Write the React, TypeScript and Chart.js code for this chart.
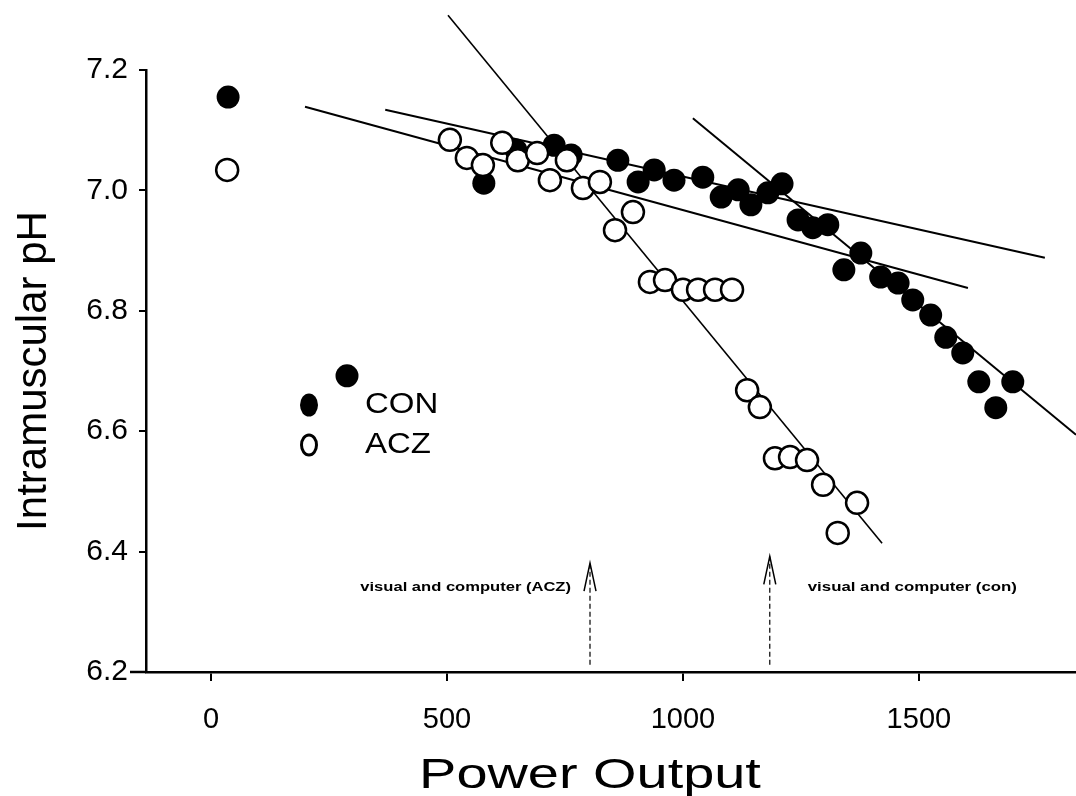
import React, { useEffect, useRef } from "react";
import { Chart, registerables } from "chart.js";

Chart.register(...registerables);

// ---- data ----
const seriesNames = ["CON", "ACZ"];

const conX = [36, 288, 578, 646, 727, 763, 862, 905, 939, 981, 1042, 1081, 1117, 1144, 1180, 1210, 1244, 1275, 1307, 1341, 1377, 1419, 1456, 1487, 1525, 1557, 1593, 1627, 1663, 1699];
const conY = [7.155, 6.692, 7.012, 7.067, 7.075, 7.059, 7.05, 7.014, 7.034, 7.017, 7.022, 6.989, 7.001, 6.976, 6.996, 7.011, 6.951, 6.938, 6.943, 6.868, 6.896, 6.856, 6.846, 6.818, 6.793, 6.756, 6.73, 6.682, 6.639, 6.682];

const aczX = [34, 506, 542, 576, 617, 650, 691, 718, 754, 788, 824, 856, 894, 930, 962, 1000, 1032, 1068, 1104, 1136, 1163, 1195, 1227, 1263, 1297, 1328, 1369];
const aczY = [7.034, 7.084, 7.054, 7.042, 7.079, 7.05, 7.062, 7.017, 7.05, 7.004, 7.014, 6.934, 6.964, 6.848, 6.851, 6.835, 6.835, 6.835, 6.835, 6.668, 6.64, 6.555, 6.557, 6.552, 6.511, 6.431, 6.481];

// fitted regression lines (end points)
const fitUpperX = [369, 1767];
const fitUpperY = [7.134, 6.888];
const fitLowerX = [199, 1604];
const fitLowerY = [7.139, 6.838];
const fitAczX = [502, 1422];
const fitAczY = [7.291, 6.414];
const fitConX = [1021, 1833];
const fitConY = [7.12, 6.594];

// thresholds (arrows)
const thresholdX = [803, 1184];
const thresholdTipY = [6.381, 6.392];
const thresholdBaseY = 6.212;
const thresholdLabelY = 6.34;
const thresholdLabels = ["visual and computer (ACZ)", "visual and computer (con)"];

const xTicks = [0, 500, 1000, 1500];
const yTicks = [6.2, 6.4, 6.6, 6.8, 7.0, 7.2];
const xTitle = "Power Output";
const yTitle = "Intramuscular pH";

const FONT = '"Liberation Sans", Arial, Helvetica, sans-serif';

const zip = (xs: number[], ys: number[]) => xs.map((x, i) => ({ x, y: ys[i] }));

const annotationPlugin = {
  id: "annotations",
  afterDatasetsDraw(chart: any) {
    const { ctx, scales, chartArea } = chart;
    const xs = scales.x;
    const ys = scales.y;
    ctx.save();
    ctx.strokeStyle = "#000";
    ctx.fillStyle = "#000";

    // small overshoot of the x axis line left of the y axis
    ctx.lineWidth = 2.5;
    ctx.beginPath();
    ctx.moveTo(chartArea.left - 16, chartArea.bottom);
    ctx.lineTo(chartArea.left, chartArea.bottom);
    ctx.stroke();

    thresholdX.forEach((v, i) => {
      const px = xs.getPixelForValue(v);
      const top = ys.getPixelForValue(thresholdTipY[i]);
      const bot = ys.getPixelForValue(thresholdBaseY);
      ctx.setLineDash([5, 3]);
      ctx.lineWidth = 1.2;
      ctx.beginPath();
      ctx.moveTo(px, bot);
      ctx.lineTo(px, top);
      ctx.stroke();
      ctx.setLineDash([]);
      ctx.lineWidth = 1.5;
      ctx.beginPath();
      ctx.moveTo(px - 6, top + 28);
      ctx.lineTo(px, top);
      ctx.lineTo(px + 6, top + 28);
      ctx.stroke();

      const ly = ys.getPixelForValue(thresholdLabelY);
      ctx.save();
      ctx.font = "bold 12px " + FONT;
      ctx.textBaseline = "middle";
      if (i === 0) {
        ctx.translate(px - 19, ly);
        ctx.scale(1.38, 1);
        ctx.textAlign = "right";
      } else {
        ctx.translate(px + 38, ly);
        ctx.scale(1.4, 1);
        ctx.textAlign = "left";
      }
      ctx.fillText(thresholdLabels[i], 0, 0);
      ctx.restore();
    });

    // legend inside plot
    const lx = 309;
    const tx = 365;
    const rows = [405, 445];
    rows.forEach((ry, i) => {
      ctx.beginPath();
      if (i === 0) {
        ctx.ellipse(lx, ry, 9, 11.5, 0, 0, Math.PI * 2);
        ctx.fillStyle = "#000";
        ctx.fill();
      } else {
        ctx.ellipse(lx, ry, 7.5, 10, 0, 0, Math.PI * 2);
        ctx.fillStyle = "#fff";
        ctx.fill();
        ctx.lineWidth = 3;
        ctx.strokeStyle = "#000";
        ctx.stroke();
      }
      ctx.save();
      ctx.fillStyle = "#000";
      ctx.font = "30px " + FONT;
      ctx.textAlign = "left";
      ctx.textBaseline = "middle";
      ctx.translate(tx, ry);
      ctx.scale(1.1, 1);
      ctx.fillText(seriesNames[i], 0, 0);
      ctx.restore();
    });

    // x axis title (horizontally stretched like the scanned original)
    ctx.save();
    ctx.fillStyle = "#000";
    ctx.font = "43px " + FONT;
    ctx.textAlign = "center";
    ctx.textBaseline = "alphabetic";
    ctx.translate(590, 788);
    ctx.scale(1.3, 1);
    ctx.fillText(xTitle, 0, 0);
    ctx.restore();

    ctx.restore();
  },
};

export default function App() {
  const ref = useRef<HTMLCanvasElement | null>(null);

  useEffect(() => {
    if (!ref.current) return;
    const lineDs = (label: string, xs: number[], ys: number[], w: number) => ({
      type: "line" as const,
      label,
      data: zip(xs, ys),
      showLine: true,
      borderColor: "#000",
      borderWidth: w,
      pointRadius: 0,
      fill: false,
      clip: false,
      order: 3,
    });
    const chart = new Chart(ref.current, {
      type: "scatter",
      data: {
        datasets: [
          {
            label: seriesNames[1],
            data: zip(aczX, aczY),
            pointRadius: 11,
            pointBackgroundColor: "#fff",
            pointBorderColor: "#000",
            pointBorderWidth: 2.5,
            order: 1,
          } as any,
          {
            label: seriesNames[0],
            data: zip(conX, conY),
            pointRadius: 11.5,
            pointBackgroundColor: "#000",
            pointBorderColor: "#000",
            pointBorderWidth: 0,
            order: 2,
          } as any,
          lineDs("CON fit 1", fitUpperX, fitUpperY, 2),
          lineDs("CON fit 2", fitLowerX, fitLowerY, 2),
          lineDs("ACZ fit", fitAczX, fitAczY, 1.6),
          lineDs("CON fit 3", fitConX, fitConY, 2),
        ],
      },
      options: {
        responsive: false,
        animation: false,
        layout: { autoPadding: false, padding: { top: 70, right: 0, left: 0, bottom: 0 } },
        plugins: {
          legend: { display: false },
          tooltip: { enabled: false },
        },
        scales: {
          x: {
            type: "linear",
            min: -138,
            max: 1833,
            afterBuildTicks: (s: any) => {
              s.ticks = xTicks.map((v) => ({ value: v }));
            },
            afterFit: (s: any) => {
              s.height = 124;
              s.paddingLeft = 0;
              s.paddingRight = 0;
            },
            ticks: {
              color: "#000",
              font: { family: FONT, size: 29, lineHeight: 1 },
              padding: 24,
              maxRotation: 0,
              callback: (v: any) => String(v),
            },
            grid: {
              drawOnChartArea: false,
              drawTicks: true,
              tickLength: 9,
              color: "#000",
              lineWidth: 2,
            },
            border: { display: true, color: "#000", width: 2.5 },
            title: { display: false, text: xTitle },
          },
          y: {
            type: "linear",
            min: 6.2,
            max: 7.2,
            afterBuildTicks: (s: any) => {
              s.ticks = yTicks.map((v) => ({ value: v }));
            },
            afterFit: (s: any) => {
              s.width = 146;
              s.paddingTop = 0;
              s.paddingBottom = 0;
            },
            ticks: {
              color: "#000",
              font: { family: FONT, size: 30, lineHeight: 1 },
              padding: 11,
              callback: (v: any) => Number(v).toFixed(1),
            },
            grid: {
              drawOnChartArea: false,
              drawTicks: true,
              tickLength: 7,
              color: "#000",
              lineWidth: 2,
            },
            border: { display: true, color: "#000", width: 2.5 },
            title: {
              display: true,
              text: yTitle,
              color: "#000",
              font: { family: FONT, size: 42, lineHeight: 1 },
              padding: { top: 13, bottom: 0 },
            },
          },
        },
      },
      plugins: [annotationPlugin],
    } as any);
    return () => chart.destroy();
  }, []);

  return (
    <div style={{ position: "absolute", left: 0, top: 0, width: 1076, height: 796, background: "#fff" }}>
      <canvas ref={ref} width={1076} height={796} style={{ display: "block" }} />
    </div>
  );
}
